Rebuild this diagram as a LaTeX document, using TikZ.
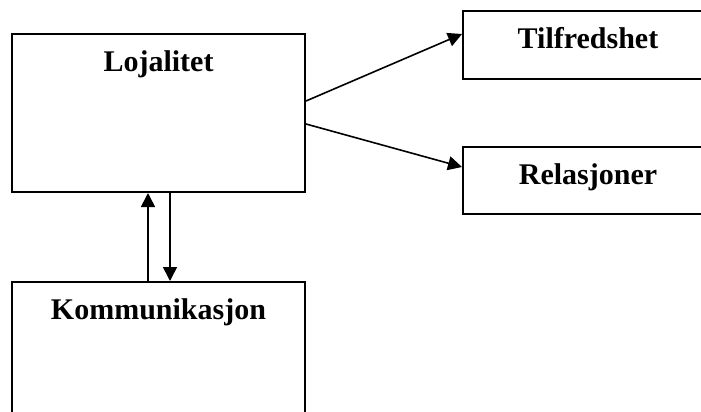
\documentclass[tikz,border=0pt]{standalone}
\usepackage{fontspec}
\setmainfont{Liberation Serif}
\usetikzlibrary{arrows.meta,positioning}
\begin{document}
\begin{tikzpicture}[x=0.5pt,y=-0.5pt,
    box/.style={draw,line width=1pt,rectangle,anchor=north west,inner sep=0pt},
    title/.style={font=\bfseries\fontsize{15pt}{18pt}\selectfont,anchor=base,inner sep=0pt},
    link/.style={line width=0.8pt,-{Triangle[length=7pt,width=7pt]}}]
    \useasboundingbox (0,0) rectangle (701,412);
    \clip (0,0) rectangle (701,412);
    \node[box,minimum width=146.5pt,minimum height=79pt] (loj) at (11,33) {};
    \node[box,minimum width=125pt,minimum height=34pt] (tilf) at (462,10) {};
    \node[box,minimum width=125pt,minimum height=33.5pt] (rel) at (462,146) {};
    \node[box,minimum width=146.5pt,minimum height=70pt] (komm) at (11,281) {};
    \node[title] (lojtext) at ([yshift=-19.25pt]loj.north) {Lojalitet};
    \node[title] (tilftext) at ([yshift=-19.25pt]tilf.north) {Tilfredshet};
    \node[title] (reltext) at ([yshift=-19.25pt]rel.north) {Relasjoner};
    \node[title] (kommtext) at ([yshift=-19.25pt]komm.north) {Kommunikasjon};
    \draw[link] ([yshift=6pt]loj.east) -- ([yshift=5.5pt]tilf.west);
    \draw[link] ([yshift=-5.5pt]loj.east) -- ([yshift=6.75pt]rel.west);
    \draw[link] ([xshift=-5.25pt]komm.north) -- ([xshift=-5.25pt]loj.south);
    \draw[link] ([xshift=5.75pt]loj.south) -- ([xshift=5.75pt]komm.north);
\end{tikzpicture}
\end{document}
